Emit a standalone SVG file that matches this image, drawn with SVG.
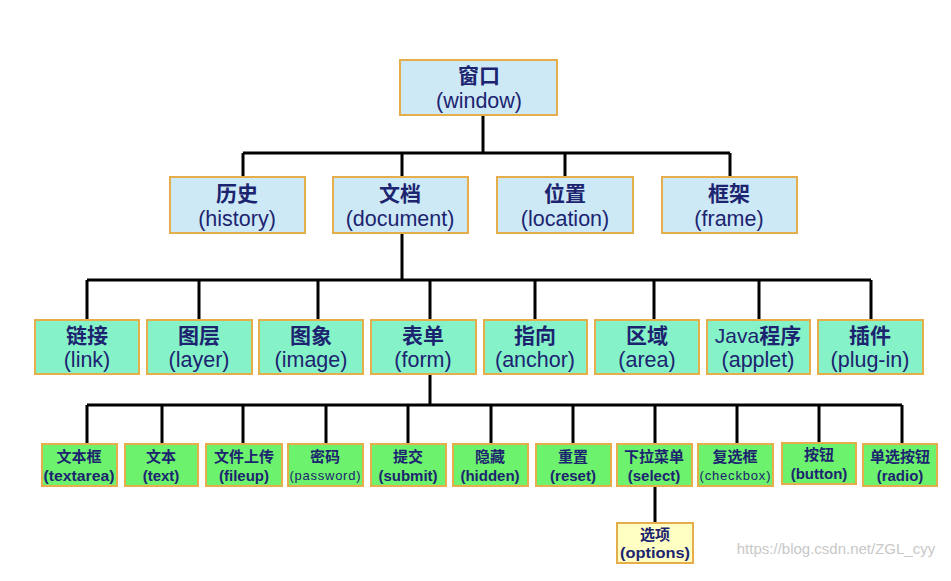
<svg xmlns="http://www.w3.org/2000/svg" width="951" height="581" viewBox="0 0 951 581">
<style>
.box{stroke:#e6ae4a;stroke-width:2}
.l1{fill:#cde9f6}
.l3{fill:#86f2c8}
.l4{fill:#6cf26c}
.l5{fill:#ffffc4}
text{font-family:"Liberation Sans","Noto Sans CJK SC",sans-serif;fill:#1c2470;text-anchor:middle}
.h{font-size:21px;font-weight:bold}
.t{font-size:21.5px}
.s{font-size:15px;font-weight:bold}
.n{font-size:13px;font-weight:normal}
.c{stroke:#000;stroke-width:3;fill:none}
</style>
<rect width="951" height="581" fill="#fff"/>
<g id="connectors">
<path class="c" d="M483 115V153M243 153H730M243 153V177M402 153V177M565 153V177M730 153V177"/>
<path class="c" d="M402 233V280M87 280H871M87 280V320M199 280V320M318 280V320M430 280V320M535 280V320M654 280V320M759 280V320M871 280V320"/>
<path class="c" d="M430 374V405M87 405H902M87 405V444M162 405V444M243 405V444M326 405V444M408 405V444M491 405V444M573 405V444M655 405V444M737 405V444M819 405V444M902 405V444"/>
<path class="c" d="M655 486V523"/>
</g>
<g id="window"><rect class="box l1" x="400" y="60" width="157" height="55"/><text class="h" x="479" y="83">窗口</text><text class="t" x="479" y="108">(window)</text></g>
<g id="history"><rect class="box l1" x="170" y="177" width="135" height="56"/><text class="h" x="237" y="201">历史</text><text class="t" x="237" y="226">(history)</text></g>
<g id="document"><rect class="box l1" x="333" y="177" width="135" height="56"/><text class="h" x="400" y="201">文档</text><text class="t" x="400" y="226">(document)</text></g>
<g id="location"><rect class="box l1" x="497" y="177" width="136" height="56"/><text class="h" x="565" y="201">位置</text><text class="t" x="565" y="226">(location)</text></g>
<g id="frame"><rect class="box l1" x="662" y="177" width="135" height="56"/><text class="h" x="729" y="201">框架</text><text class="t" x="729" y="226">(frame)</text></g>
<g id="link"><rect class="box l3" x="35" y="320" width="104" height="54"/><text class="h" x="87" y="343">链接</text><text class="t" x="87" y="367">(link)</text></g>
<g id="layer"><rect class="box l3" x="147" y="320" width="105" height="54"/><text class="h" x="199" y="343">图层</text><text class="t" x="199" y="367">(layer)</text></g>
<g id="image"><rect class="box l3" x="259" y="320" width="104" height="54"/><text class="h" x="311" y="343">图象</text><text class="t" x="311" y="367">(image)</text></g>
<g id="form"><rect class="box l3" x="371" y="320" width="105" height="54"/><text class="h" x="423" y="343">表单</text><text class="t" x="423" y="367">(form)</text></g>
<g id="anchor"><rect class="box l3" x="484" y="320" width="103" height="54"/><text class="h" x="535" y="343">指向</text><text class="t" x="535" y="367">(anchor)</text></g>
<g id="area"><rect class="box l3" x="595" y="320" width="104" height="54"/><text class="h" x="647" y="343">区域</text><text class="t" x="647" y="367">(area)</text></g>
<g id="applet"><rect class="box l3" x="707" y="320" width="103" height="54"/><text class="h" x="758" y="343"><tspan font-weight="normal">Java</tspan>程序</text><text class="t" x="758" y="367">(applet)</text></g>
<g id="plugin"><rect class="box l3" x="818" y="320" width="105" height="54"/><text class="h" x="870" y="343">插件</text><text class="t" x="870" y="367">(plug-in)</text></g>
<g id="textarea"><rect class="box l4" x="42" y="444" width="75" height="42"/><text class="s" x="79" y="462">文本框</text><text class="s" x="79" y="481" textLength="71" lengthAdjust="spacingAndGlyphs">(textarea)</text></g>
<g id="text"><rect class="box l4" x="125" y="444" width="73" height="42"/><text class="s" x="161" y="462">文本</text><text class="s" x="161" y="481">(text)</text></g>
<g id="fileup"><rect class="box l4" x="206" y="444" width="76" height="42"/><text class="s" x="244" y="462">文件上传</text><text class="s" x="244" y="481">(fileup)</text></g>
<g id="password"><rect class="box l4" x="288" y="444" width="75" height="42"/><text class="s" x="325" y="462">密码</text><text class="s n" x="325" y="480" textLength="71" lengthAdjust="spacing">(password)</text></g>
<g id="submit"><rect class="box l4" x="371" y="444" width="75" height="42"/><text class="s" x="408" y="462">提交</text><text class="s" x="408" y="481">(submit)</text></g>
<g id="hidden"><rect class="box l4" x="453" y="444" width="75" height="42"/><text class="s" x="490" y="462">隐藏</text><text class="s" x="490" y="481">(hidden)</text></g>
<g id="reset"><rect class="box l4" x="536" y="444" width="75" height="42"/><text class="s" x="573" y="462">重置</text><text class="s" x="573" y="481">(reset)</text></g>
<g id="select"><rect class="box l4" x="617" y="444" width="75" height="42"/><text class="s" x="654" y="462">下拉菜单</text><text class="s" x="654" y="481">(select)</text></g>
<g id="checkbox"><rect class="box l4" x="698" y="444" width="75" height="42"/><text class="s" x="735" y="462">复选框</text><text class="s n" x="735" y="480" textLength="71" lengthAdjust="spacing">(checkbox)</text></g>
<g id="button"><rect class="box l4" x="782" y="443" width="74" height="41"/><text class="s" x="819" y="460">按钮</text><text class="s" x="819" y="479">(button)</text></g>
<g id="radio"><rect class="box l4" x="863" y="444" width="74" height="42"/><text class="s" x="900" y="462">单选按钮</text><text class="s" x="900" y="481">(radio)</text></g>
<g id="options"><rect class="box l5" x="617" y="523" width="76" height="40"/><text class="s" x="655" y="540">选项</text><text class="s" x="655" y="558" textLength="70" lengthAdjust="spacingAndGlyphs">(options)</text></g>
<text x="836" y="554" style="font-size:15px;fill:#c8c8c8;font-weight:normal">https://blog.csdn.net/ZGL_cyy</text>
</svg>
